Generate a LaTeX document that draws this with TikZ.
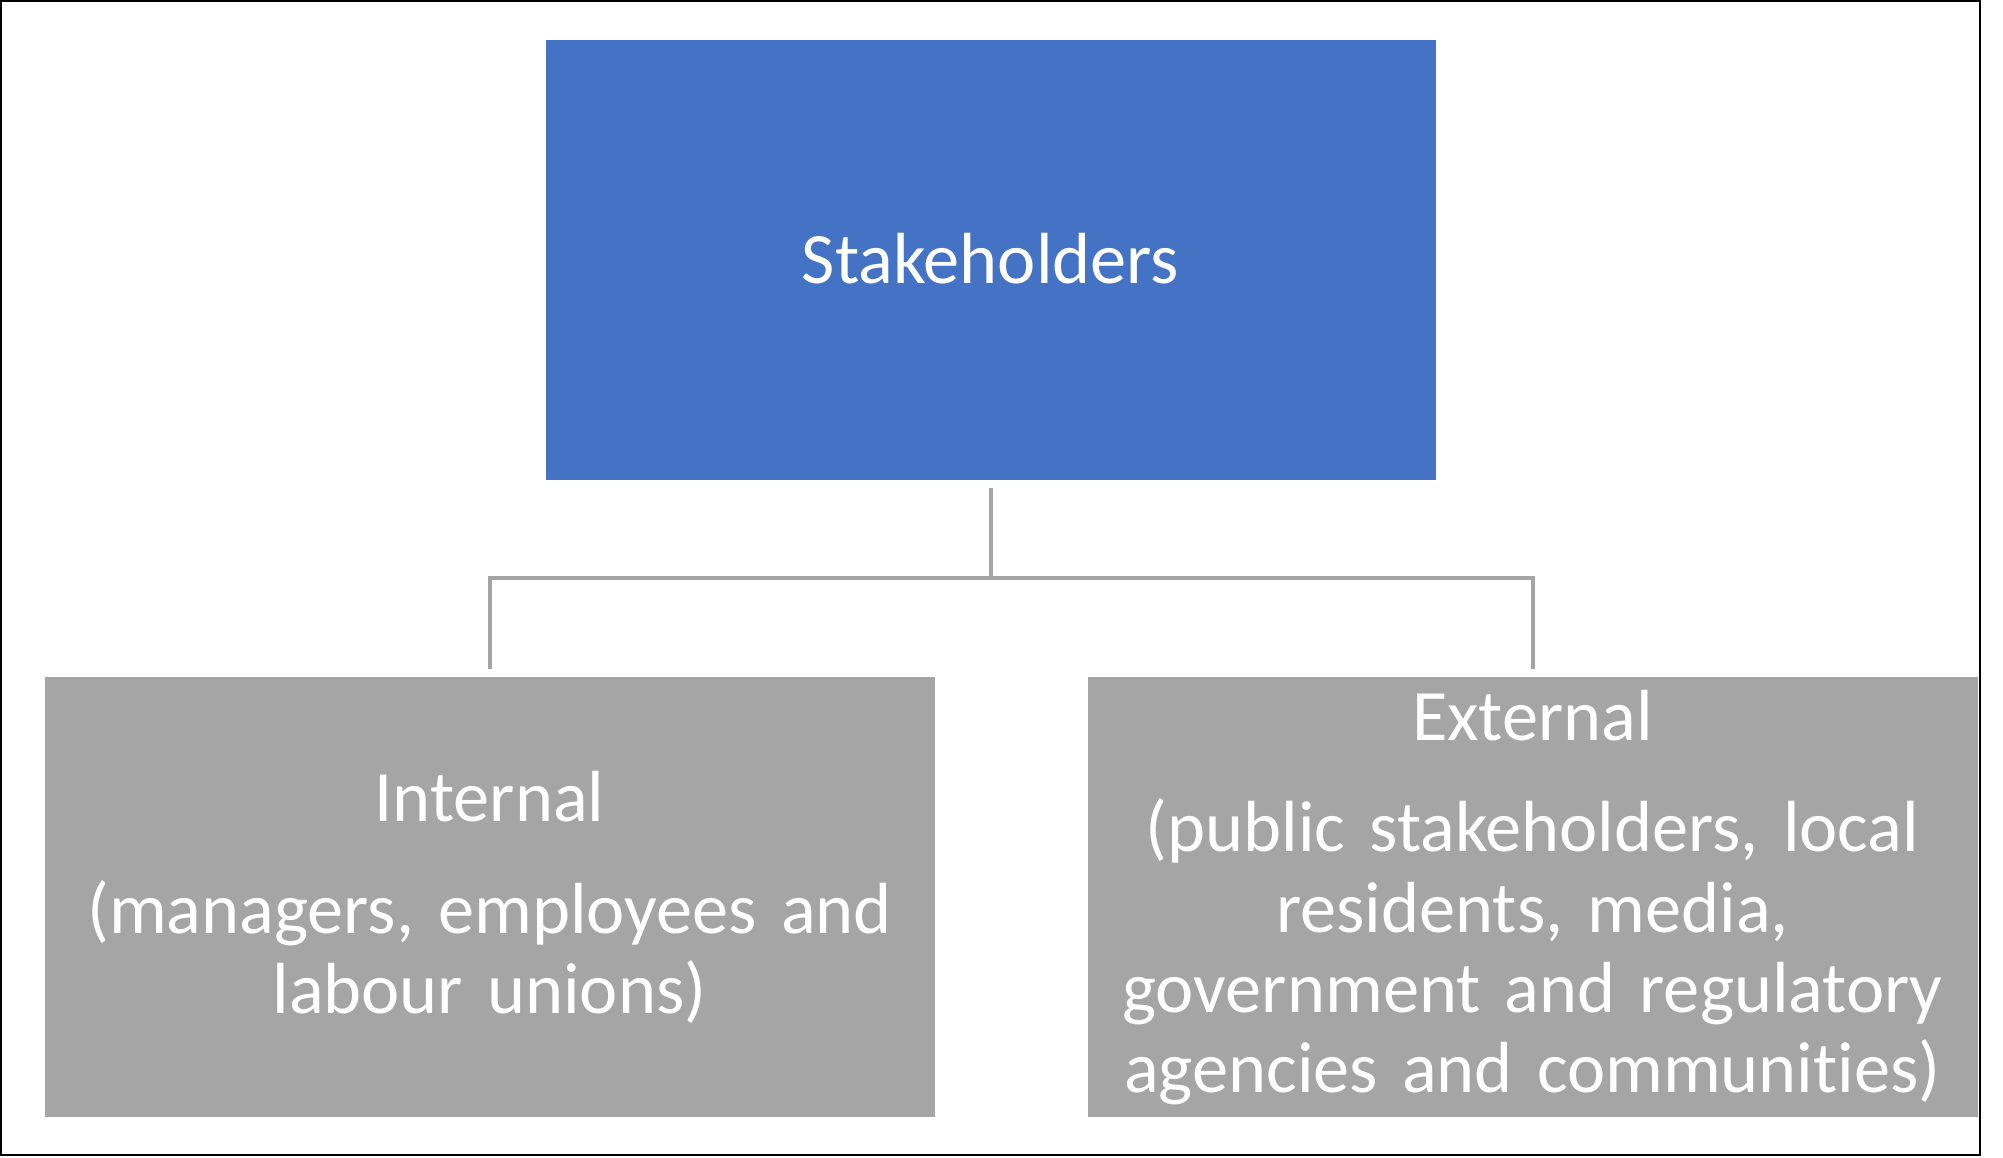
\documentclass[tikz,border=0pt]{standalone}
\usepackage{fontspec}
\setmainfont{Carlito}[Ligatures=NoCommon]
\usepackage{tikz}
\usetikzlibrary{positioning}

\definecolor{topblue}{HTML}{4472C4}
\definecolor{boxgray}{HTML}{A5A5A5}

\begin{document}
\begin{tikzpicture}[
    grp/.style={minimum width=8.9cm, minimum height=4.4cm, text width=8.7cm,
                align=center, inner sep=0pt, text=white,
                font=\fontsize{20.6}{22.8}\selectfont},
    conn/.style={draw=boxgray, line width=0.04cm},
    node distance=1.96cm
]
    \useasboundingbox (0,0) rectangle (20.03,11.58);
    \draw[line width=0.02cm] (0.01,0.03) rectangle (19.80,11.57);

    \node[grp, fill=topblue] (top) at (9.905,8.98) {\raisebox{0.03cm}{Stakeholders}};
    \node[grp, fill=boxgray,
          below=of top, xshift=-5.01cm] (int)
          {Internal\\[9pt](managers, employees and\\labour unions)};
    \node[grp, fill=boxgray,
          below=of top, xshift=5.42cm] (ext)
          {External\\[9pt](public stakeholders, local\\residents, media,\\government and regulatory\\agencies and communit\kern0pt ies)};

    \draw[conn, shorten <=0.07cm] (top.south) -- ++(0,-0.97) coordinate (hub);
    \draw[conn, shorten <=0.08cm, shorten >=0.08cm] (int.north) |- (hub) -| (ext.north);
\end{tikzpicture}
\end{document}
